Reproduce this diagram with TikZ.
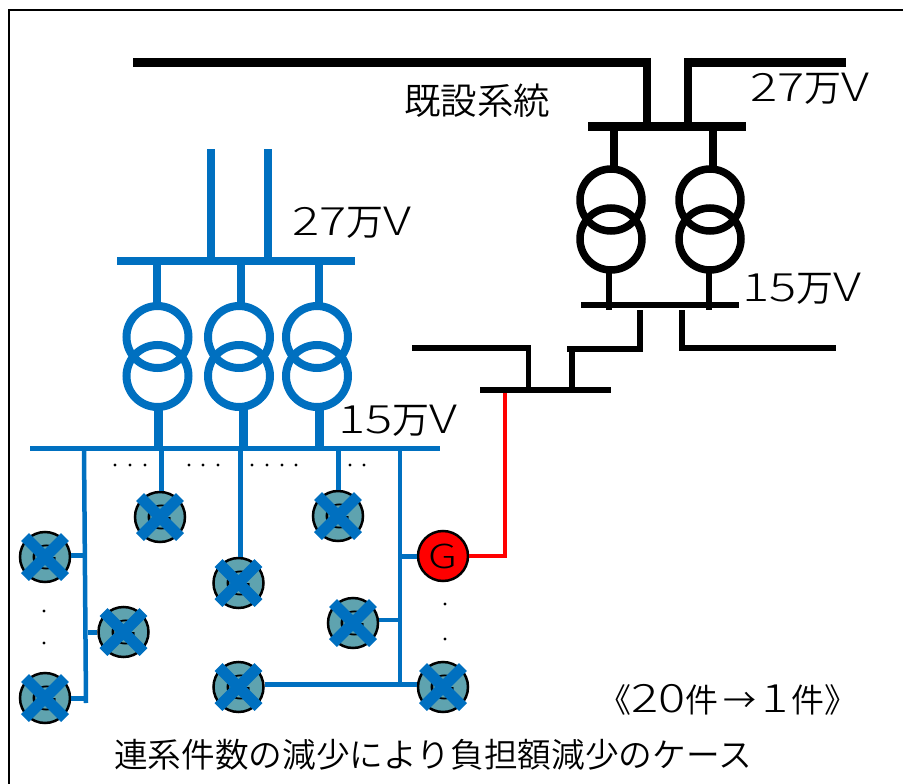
\documentclass[tikz,border=0pt]{standalone}
\usepackage{fontspec}
\setmainfont{Noto Sans CJK JP DemiLight}
\newfontfamily\latfont[FakeStretch=1.3]{Noto Sans CJK JP Light}
\newcommand{\lat}[1]{{\fontsize{39}{39}\latfont #1}}
\definecolor{lineblue}{HTML}{0070C0}
\definecolor{genteal}{HTML}{5FA3AF}
\tikzset{
    bus/.style={fill, inner sep=0pt, minimum height=#1},
    bar/.style={line width=#1, line cap=butt},
    coil/.style={circle, draw, inner sep=0pt, minimum size=62pt},
    gen/.style={circle, draw=black, line width=2.5pt, inner sep=0pt, minimum size=50pt, font=\fontsize{33}{33}\latfont},
    dotmark/.style={circle, fill=black, inner sep=0pt, minimum size=3.4pt},
    label/.style={inner sep=0pt, font=\fontsize{33.7}{33.7}\selectfont, text=black},
    volt/.style={inner sep=0pt, font=\fontsize{37}{37}\selectfont, text=black}
}
\begin{document}
\begin{tikzpicture}[x=1pt, y=-1pt]
    \useasboundingbox (0,0) rectangle (903,784);
    % frame
    \coordinate (fa) at (9,784);
    \coordinate (fb) at (9,10);
    \coordinate (fc) at (903,10);
    \draw[line width=2.5pt] (fa) -- (fb) -- (fc);

    % existing system
    \coordinate (ta) at (133,62.5);
    \coordinate (tb) at (650.5,62.5);
    \coordinate (tc) at (846,62.5);
    \coordinate (td) at (684,62.5);
    \node[bus=9pt, minimum width=158pt] (b27) at (667,126.5) {};
    \draw[bar=9pt] (ta) -- (tb);
    \draw[bar=9pt] (tc) -- (td);
    \draw[bar=8pt] (646.5,58) -- (646.5,122);
    \draw[bar=8pt] (688,58) -- (688,122);
    \node[coil, line width=7.5pt] (t1a) at (611,200) {};
    \node[coil, line width=7.5pt] (t1b) at (611,239) {};
    \node[coil, line width=7.5pt] (t2a) at (710,200) {};
    \node[coil, line width=7.5pt] (t2b) at (710,239) {};
    \node[bus=5.5pt, minimum width=158pt] (b15) at (660,305) {};
    \node[bus=5.5pt, minimum width=131pt] (b15s) at (545.5,390) {};
    \draw[bar=8pt] (613.5,126.5) -- (613.5,167);
    \draw[bar=8pt] (712.5,126.5) -- (712.5,167);
    \draw[bar=6pt] (609,270) -- (609,310);
    \draw[bar=6pt] (709,270) -- (709,310);
    \draw[bar=5.5pt] (640,310) -- (640,349) -- (567,349);
    \draw[bar=5.5pt] (572,349) -- (572,390);
    \draw[bar=5.5pt] (412,348) -- (528.5,348) -- (528.5,390);
    \draw[bar=5.5pt] (682,310) -- (682,351);
    \draw[bar=5.5pt] (682,348) -- (836,348);

    % new substation
    \begin{scope}[lineblue]
        \node[bus=8pt, minimum width=238pt] (n27) at (236,261) {};
        \node[bus=5.5pt, minimum width=410pt] (n15) at (235,448.5) {};
        \foreach \name/\x in {a/157.5, b/239, c/317} {
            \node[coil, line width=8pt] (n\name u) at (\x,337) {};
            \node[coil, line width=8pt] (n\name l) at (\x,376) {};
        }
        \draw[bar=8pt] (211,149) -- (211,261);
        \draw[bar=8pt] (268,149) -- (268,261);
        \draw[bar=8pt] (157,261) -- (157,303);
        \draw[bar=8pt] (240.5,261) -- (240.5,303);
        \draw[bar=8pt] (319,261) -- (319,303);
        \draw[bar=9pt] (158.5,410) -- (158.5,448);
        \draw[bar=9pt] (243,410) -- (243,448);
        \draw[bar=9pt] (319,410) -- (319,448);
    \end{scope}

    % generators
    \foreach \name/\x/\y in {a/45/557, b/160/517, c/238.5/583, d/123.5/632, e/45/698, f/238.5/687, g/338/516, h/353/623, i/443/687} {
        \node[gen, fill=genteal] (g\name) at (\x,\y) {G};
    }
    \node[gen, fill=red] (gr) at (443,556) {G};

    % collectors
    \begin{scope}[lineblue]
        \draw[line width=4.5pt] (84,448) -- (86,703);
        \draw[line width=4.5pt] (400,448) -- (400,686);
        \draw[line width=5pt] (ga.east |- 0,555) -- (85,555);
        \draw[line width=5pt] (ge.east) -- (86,698);
        \draw[line width=5pt] (gd.west) -- (88,632);
        \draw[line width=5pt] (161,448) -- (gb.north -| 161,448);
        \draw[line width=5pt] (240,448) -- (gc.north -| 240,448);
        \draw[line width=5pt] (338,448) -- (gg.north);
        \draw[line width=5pt] (400,556) -- (gr.west);
        \draw[line width=4pt] (gh.east) ++(0,-3.5) -- ++(19,0);
        \draw[line width=5pt] (gf.east |- 0,684) -- (gi.west |- 0,684);
    \end{scope}
    \draw[red, line width=4.5pt] (gr.east) -- (505,556) -- (505,392.5);

    % crosses
    \foreach \name in {a,b,c,d,e,f,g,h,i} {
        \draw[lineblue, line width=11pt] ([shift={(-20,-20)}]g\name.center) -- ([shift={(20,20)}]g\name.center);
        \draw[lineblue, line width=11pt] ([shift={(20,-20)}]g\name.center) -- ([shift={(-20,20)}]g\name.center);
    }

    % dots
    \foreach \x/\y [count=\i] in {115/465, 130/465, 145/465, 189/465, 203/465, 218/465, 252/465, 267/465, 282/465, 296/465, 350/465, 364/465, 44/611, 44/643, 445/604, 445/639} {
        \node[dotmark] (d\i) at (\x,\y) {};
    }

    % labels
    \node[label, font=\fontsize{36.5}{36.5}\selectfont] (sys) at (477,101) {既設系統};
    \node[volt] (v27r) at (810,89) {\lat{27}万\lat{V}};
    \node[volt] (v15r) at (802,289) {\lat{15}万\lat{V}};
    \node[volt] (v27l) at (352,223) {\lat{27}万\lat{V}};
    \node[volt] (v15l) at (398,421) {\lat{15}万\lat{V}};
    \node[label, font=\fontsize{33}{33}\selectfont] (cnt) at (728,700) {《\lat{20}件\hspace{5pt}→\hspace{5pt}\lat{1}\hspace{3pt}件》};
    \node[label] (case) at (433,755) {連系件数の減少により負担額減少のケース};
\end{tikzpicture}
\end{document}
